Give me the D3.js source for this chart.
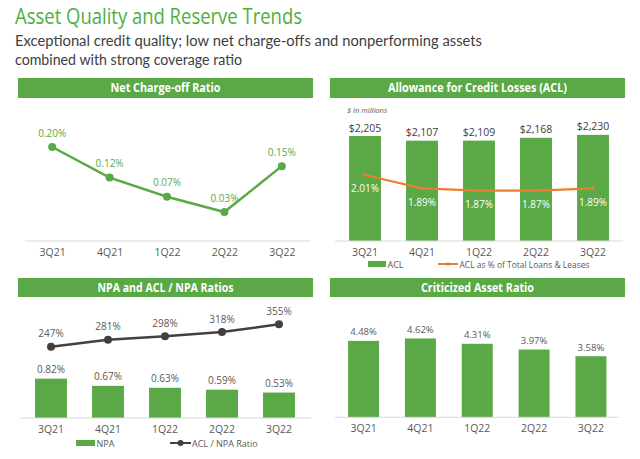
<!DOCTYPE html>
<html>
<head>
<meta charset="utf-8">
<script src="https://cdn.jsdelivr.net/npm/d3@7"></script>
<style>
  html, body { margin: 0; padding: 0; background: #ffffff; }
  svg { display: block; font-family: "Open Sans", "Noto Sans", sans-serif; }
</style>
</head>
<body>
<svg id="chart" width="640" height="459"></svg>
<script>
// ---- Data ----
const quarters = ["3Q21", "4Q21", "1Q22", "2Q22", "3Q22"];
const ncoRatio = [0.20, 0.12, 0.07, 0.03, 0.15];
const aclValues = [2205, 2107, 2109, 2168, 2230];
const aclPctLoans = [2.01, 1.89, 1.87, 1.87, 1.89];
const npaPct = [0.82, 0.67, 0.63, 0.59, 0.53];
const aclNpaRatio = [247, 281, 298, 318, 355];
const criticizedRatio = [4.48, 4.62, 4.31, 3.97, 3.58];

const GREEN = "#5aa946";
const TITLE_GREEN = "#4fae3f";
const ORANGE = "#ed7d31";
const DARK = "#404040";
const LABEL = "#595959";
const AXIS = "#d9d9d9";

const svg = d3.select("#chart");

function fit(sel, w) {
  sel.each(function () {
    const len = this.getComputedTextLength();
    if (Math.abs(len - w) > 1) {
      d3.select(this).attr("textLength", w).attr("lengthAdjust", "spacingAndGlyphs");
    }
  });
  return sel;
}

// ---- Titles ----
fit(svg.append("text").attr("x", 15).attr("y", 23.5)
  .attr("font-size", 22).attr("fill", TITLE_GREEN)
  .text("Asset Quality and Reserve Trends"), 287);
fit(svg.append("text").attr("x", 15).attr("y", 46)
  .attr("font-size", 15.5).attr("font-family", "Lato, sans-serif").attr("fill", DARK)
  .text("Exceptional credit quality; low net charge-offs and nonperforming assets"), 467);
fit(svg.append("text").attr("x", 15).attr("y", 65)
  .attr("font-size", 15.5).attr("font-family", "Lato, sans-serif").attr("fill", DARK)
  .text("combined with strong coverage ratio"), 227);

// ---- Panel headers ----
function header(x, y, w, h, label, tw) {
  svg.append("rect").attr("x", x).attr("y", y).attr("width", w).attr("height", h).attr("fill", GREEN);
  fit(svg.append("text").attr("x", x + w / 2).attr("y", y + h / 2 + 4.2)
    .attr("text-anchor", "middle").attr("font-size", 12).attr("font-weight", "bold")
    .attr("fill", "#ffffff").text(label), tw);
}
header(18, 78, 295, 20, "Net Charge-off Ratio", 110);
header(330, 78, 295, 20, "Allowance for Credit Losses (ACL)", 179);
header(18, 278, 295, 19, "NPA and ACL / NPA Ratios", 136);
header(330, 278, 295, 19, "Criticized Asset Ratio", 113);

function xAxis(x, y, x0, x1) {
  const g = svg.append("g").attr("transform", `translate(0,${y})`);
  g.call(d3.axisBottom(x).tickSize(0).tickPadding(0));
  g.select(".domain").remove();
  g.append("line").attr("x1", x0).attr("x2", x1).attr("y1", 0).attr("y2", 0)
    .attr("stroke", AXIS).attr("stroke-width", 1);
  g.selectAll(".tick text").attr("y", 15).attr("dy", 0)
    .attr("font-size", 10.5).attr("fill", LABEL).attr("font-family", "Open Sans, sans-serif");
  return g;
}

// ---- Panel 1: Net Charge-off Ratio ----
{
  const x = d3.scalePoint().domain(quarters).range([23.5, 310.5]).padding(0.5);
  const y = d3.scaleLinear().domain([0, 0.20]).range([223.5, 147]);
  xAxis(x, 241, 25, 310);
  const pts = quarters.map((q, i) => ({ q, v: ncoRatio[i] }));
  svg.append("path").datum(pts)
    .attr("d", d3.line().x(d => x(d.q)).y(d => y(d.v)))
    .attr("fill", "none").attr("stroke", GREEN).attr("stroke-width", 2.5);
  svg.selectAll(".p1dot").data(pts).join("circle")
    .attr("cx", d => x(d.q)).attr("cy", d => y(d.v)).attr("r", 4).attr("fill", GREEN);
  svg.selectAll(".p1lab").data(pts).join("text")
    .attr("x", d => x(d.q)).attr("y", d => y(d.v) - 10.5)
    .attr("text-anchor", "middle").attr("font-size", 10).attr("fill", GREEN)
    .text(d => d.v.toFixed(2) + "%");
}

// ---- Panel 2: ACL ----
{
  const x = d3.scaleBand().domain(quarters).range([336.5, 621.5]).paddingInner(0.44).paddingOuter(0.22);
  const y = d3.scaleLinear().domain([0, 2500]).range([241, 122]);
  const y2 = d3.scaleLinear().domain([1.4, 2.2]).range([243.3, 153.7]);
  const pts = quarters.map((q, i) => ({ q, v: aclValues[i], p: aclPctLoans[i] }));
  svg.selectAll(".p2bar").data(pts).join("rect")
    .attr("x", d => x(d.q)).attr("width", x.bandwidth())
    .attr("y", d => y(d.v)).attr("height", d => y(0) - y(d.v)).attr("fill", GREEN);
  xAxis(x, 241, 335, 623);
  svg.selectAll(".p2val").data(pts).join("text")
    .attr("x", d => x(d.q) + x.bandwidth() / 2).attr("y", d => y(d.v) - 4.5)
    .attr("text-anchor", "middle").attr("font-size", 10.5).attr("fill", DARK)
    .text(d => "$" + d3.format(",")(d.v));
  svg.append("path").datum(pts)
    .attr("d", d3.line().x(d => x(d.q) + x.bandwidth() / 2).y(d => y2(d.p)))
    .attr("fill", "none").attr("stroke", ORANGE).attr("stroke-width", 2.2);
  svg.selectAll(".p2dot").data(pts).join("circle")
    .attr("cx", d => x(d.q) + x.bandwidth() / 2).attr("cy", d => y2(d.p)).attr("r", 1.8).attr("fill", ORANGE);
  svg.selectAll(".p2pct").data(pts).join("text")
    .attr("x", d => x(d.q) + x.bandwidth() / 2).attr("y", d => y2(d.p) + 17.5)
    .attr("text-anchor", "middle").attr("font-size", 10).attr("fill", "#ffffff")
    .text(d => d.p.toFixed(2) + "%");
  svg.append("text").attr("x", 347).attr("y", 113).attr("font-size", 7.5)
    .attr("font-style", "italic").attr("fill", LABEL).text("$ in millions");
  // legend
  svg.append("rect").attr("x", 368).attr("y", 261).attr("width", 18).attr("height", 6).attr("fill", GREEN);
  svg.append("text").attr("x", 387.5).attr("y", 267.5).attr("font-size", 9).attr("fill", LABEL).text("ACL");
  svg.append("line").attr("x1", 438).attr("x2", 458).attr("y1", 264).attr("y2", 264)
    .attr("stroke", ORANGE).attr("stroke-width", 2);
  svg.append("circle").attr("cx", 448).attr("cy", 264).attr("r", 1.8).attr("fill", ORANGE);
  fit(svg.append("text").attr("x", 459.5).attr("y", 267.5).attr("font-size", 9).attr("fill", LABEL)
    .text("ACL as % of Total Loans & Leases"), 130);
}

// ---- Panel 3: NPA and ACL / NPA ----
{
  const x = d3.scaleBand().domain(quarters).range([22.5, 307.5]).paddingInner(0.44).paddingOuter(0.22);
  const y = d3.scaleLinear().domain([0, 1]).range([418, 370]);
  const y2 = d3.scaleLinear().domain([0, 400]).range([398, 315]);
  const pts = quarters.map((q, i) => ({ q, v: npaPct[i], r: aclNpaRatio[i] }));
  svg.selectAll(".p3bar").data(pts).join("rect")
    .attr("x", d => x(d.q)).attr("width", x.bandwidth())
    .attr("y", d => y(d.v)).attr("height", d => y(0) - y(d.v)).attr("fill", GREEN);
  xAxis(x, 418, 20, 311);
  svg.selectAll(".p3val").data(pts).join("text")
    .attr("x", d => x(d.q) + x.bandwidth() / 2).attr("y", d => y(d.v) - 6)
    .attr("text-anchor", "middle").attr("font-size", 10).attr("fill", LABEL)
    .text(d => d.v.toFixed(2) + "%");
  svg.append("path").datum(pts)
    .attr("d", d3.line().x(d => x(d.q) + x.bandwidth() / 2).y(d => y2(d.r)))
    .attr("fill", "none").attr("stroke", DARK).attr("stroke-width", 2.5);
  svg.selectAll(".p3dot").data(pts).join("circle")
    .attr("cx", d => x(d.q) + x.bandwidth() / 2).attr("cy", d => y2(d.r)).attr("r", 4).attr("fill", DARK);
  svg.selectAll(".p3lab").data(pts).join("text")
    .attr("x", d => x(d.q) + x.bandwidth() / 2).attr("y", d => y2(d.r) - 9.5)
    .attr("text-anchor", "middle").attr("font-size", 10).attr("fill", LABEL)
    .text(d => d.r + "%");
  // legend
  svg.append("rect").attr("x", 76).attr("y", 440).attr("width", 19).attr("height", 6).attr("fill", GREEN);
  svg.append("text").attr("x", 96.5).attr("y", 446.5).attr("font-size", 9).attr("fill", LABEL).text("NPA");
  svg.append("line").attr("x1", 170).attr("x2", 191).attr("y1", 443).attr("y2", 443)
    .attr("stroke", DARK).attr("stroke-width", 2);
  svg.append("circle").attr("cx", 180.5).attr("cy", 443).attr("r", 3).attr("fill", DARK);
  fit(svg.append("text").attr("x", 192).attr("y", 446.5).attr("font-size", 9).attr("fill", LABEL)
    .text("ACL / NPA Ratio"), 65);
}

// ---- Panel 4: Criticized Asset Ratio ----
{
  const x = d3.scaleBand().domain(quarters).range([335, 619.5]).paddingInner(0.455).paddingOuter(0.23);
  const y = d3.scaleLinear().domain([0, 5]).range([417.3, 332]);
  const pts = quarters.map((q, i) => ({ q, v: criticizedRatio[i] }));
  svg.selectAll(".p4bar").data(pts).join("rect")
    .attr("x", d => x(d.q)).attr("width", x.bandwidth())
    .attr("y", d => y(d.v)).attr("height", d => y(0) - y(d.v)).attr("fill", GREEN);
  xAxis(x, 417.3, 335, 619);
  svg.selectAll(".p4val").data(pts).join("text")
    .attr("x", d => x(d.q) + x.bandwidth() / 2).attr("y", d => y(d.v) - 5.5)
    .attr("text-anchor", "middle").attr("font-size", 9.5).attr("fill", LABEL)
    .text(d => d.v.toFixed(2) + "%");
}
</script>
</body>
</html>
